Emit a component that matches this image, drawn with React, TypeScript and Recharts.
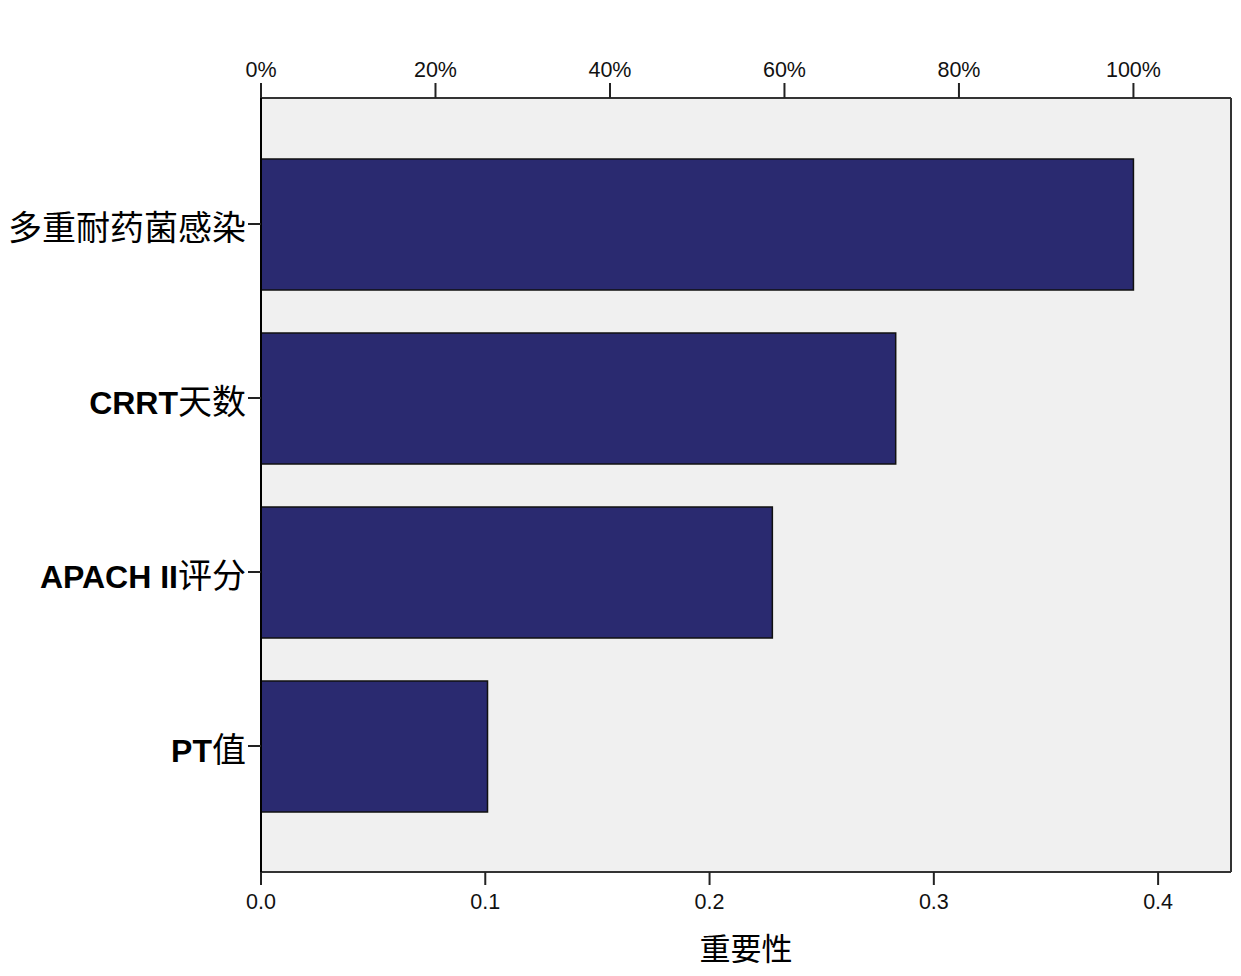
import React from 'react';
import { BarChart, Bar, XAxis, YAxis, CartesianGrid, ReferenceLine } from 'recharts';

// 变量重要性 (importance values)
const categories = ['多重耐药菌感染', 'CRRT天数', 'APACH II评分', 'PT值'];
const importance = [0.389, 0.283, 0.228, 0.101];
const bottomTicks = [0, 0.1, 0.2, 0.3, 0.4];
const topTickPercents = [0, 20, 40, 60, 80, 100];
const xMax = 0.4325;

const data = categories.map((name, i) => ({ name, value: importance[i] }));
const maxImp = Math.max(...importance);
const topTicks = topTickPercents.map((p) => (p / 100) * maxImp);

const latinFont = '"Liberation Sans", Arial, sans-serif';
const cjkFont = '"Noto Sans CJK SC", sans-serif';

const CategoryTick = (props: any) => {
    const { x, y, payload } = props;
    const parts = String(payload.value).split(/([\u4e00-\u9fff]+)/).filter((s) => s.length > 0);
    return (
        <g>
            <text x={x} y={y} dy={16} textAnchor="end" fill="#000">
                {parts.map((p, i) =>
                    /[\u4e00-\u9fff]/.test(p) ? (
                        <tspan key={i} fontFamily={cjkFont} fontSize={34} fontWeight="normal">{p}</tspan>
                    ) : (
                        <tspan key={i} fontFamily={latinFont} fontSize={32} fontWeight="bold" xmlSpace="preserve">{p}</tspan>
                    )
                )}
            </text>
        </g>
    );
};

const tickStyle = { fontSize: 21.5, fill: '#111', fontFamily: latinFont };

export default function App() {
    return (
        <div style={{ position: 'absolute', left: 0, top: 0, background: '#fff' }}>
            <BarChart
                width={1241}
                height={976}
                data={data}
                layout="vertical"
                margin={{ top: 0, right: 10, bottom: 0, left: 0 }}
            >
                <CartesianGrid fill="#F0F0F0" horizontal={false} vertical={false} xAxisId="bottom" />
                <XAxis
                    xAxisId="bottom"
                    type="number"
                    orientation="bottom"
                    domain={[0, xMax]}
                    ticks={bottomTicks}
                    tickFormatter={(v: number) => v.toFixed(1)}
                    allowDataOverflow
                    height={104}
                    tick={tickStyle}
                    tickSize={13}
                    tickMargin={9}
                    axisLine={{ stroke: '#333', strokeWidth: 2 }}
                    tickLine={{ stroke: '#222', strokeWidth: 2 }}
                    label={{ value: '重要性', position: 'insideBottom', offset: 16, fontSize: 31, fill: '#000', fontFamily: cjkFont }}
                />
                <XAxis
                    xAxisId="top"
                    type="number"
                    orientation="top"
                    domain={[0, xMax]}
                    ticks={topTicks}
                    tickFormatter={(v: number) => `${Math.round((v / maxImp) * 100)}%`}
                    allowDataOverflow
                    height={98}
                    tick={tickStyle}
                    tickSize={15}
                    tickMargin={6}
                    axisLine={{ stroke: '#333', strokeWidth: 2 }}
                    tickLine={{ stroke: '#222', strokeWidth: 2 }}
                />
                <YAxis
                    type="category"
                    dataKey="name"
                    width={261}
                    padding={{ top: 39, bottom: 39 }}
                    tick={<CategoryTick />}
                    tickSize={13}
                    tickMargin={2}
                    axisLine={{ stroke: '#000', strokeWidth: 2 }}
                    tickLine={{ stroke: '#222', strokeWidth: 2 }}
                    interval={0}
                />
                <ReferenceLine xAxisId="bottom" x={xMax} stroke="#333" strokeWidth={2} ifOverflow="extendDomain" />
                <Bar
                    xAxisId="bottom"
                    dataKey="value"
                    fill="#2A2A70"
                    stroke="#111"
                    strokeWidth={1.5}
                    barSize={131}
                    isAnimationActive={false}
                />
            </BarChart>
        </div>
    );
}
